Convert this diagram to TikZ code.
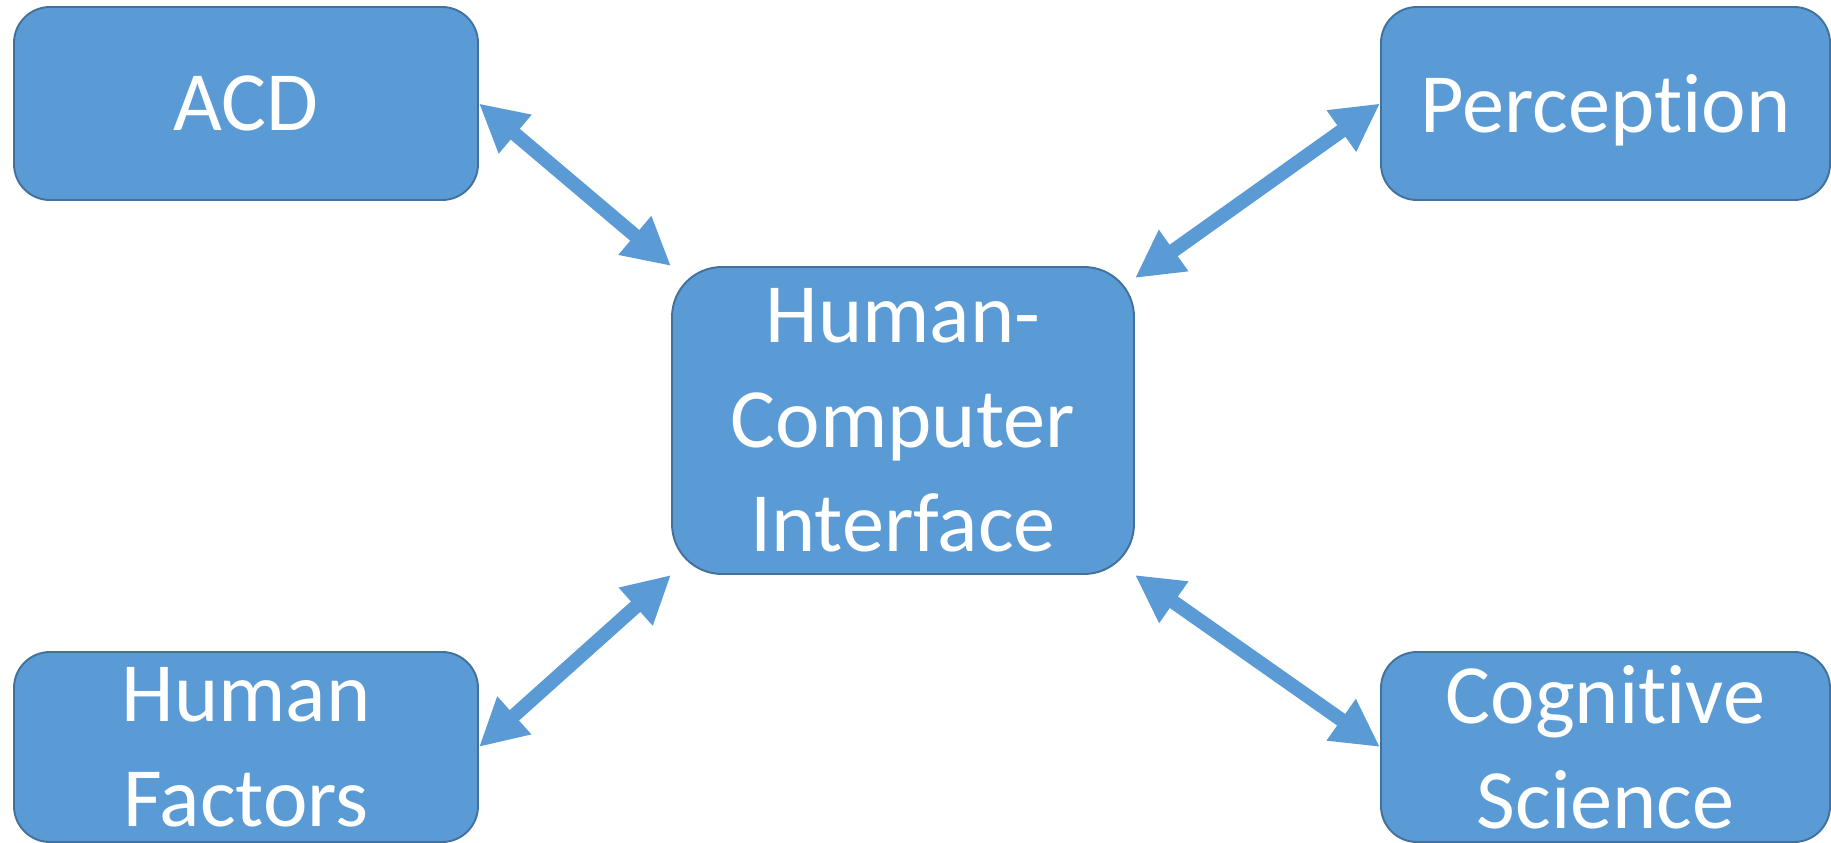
\documentclass[tikz,border=0pt]{standalone}
\usepackage{fontspec}
\setmainfont{Carlito}[Ligatures={NoCommon}]
\usetikzlibrary{arrows.meta}
\definecolor{boxfill}{HTML}{5B9BD5}
\definecolor{boxline}{HTML}{41719C}

\begin{document}
\begin{tikzpicture}[
    box/.style={draw=boxline, fill=boxfill, line width=1.1pt, rounded corners=0.72cm,
      text=white, align=center, inner sep=0pt, font=\fontsize{48}{59.5}\selectfont},
    link/.style={boxfill, line width=8pt,
      {Triangle[length=0.95cm,width=0.95cm]}-{Triangle[length=0.95cm,width=0.95cm]}}]
            \useasboundingbox (0,0) rectangle (36.62,-16.86);
            \node[box, minimum width=9.28cm, minimum height=3.86cm] (ACD) at (4.92, -2.07) {ACD};
            \node[box, minimum width=8.98cm, minimum height=3.86cm, text depth=0pt] (Perc) at (32.11, -2.07) {Perception};
            \node[box, minimum width=9.24cm, minimum height=6.14cm, rounded corners=1cm] (HCI) at (18.06, -8.41) {Human-\\Computer\\Interface};
            \node[box, minimum width=9.28cm, minimum height=3.80cm] (HF) at (4.92, -14.94) {Human\\Factors};
            \node[box, minimum width=8.98cm, minimum height=3.80cm] (Cog) at (32.11, -14.94) {Cognitive\\Science};

            \draw[link] (ACD.east) to (HCI.north west);
            \draw[link] (Perc.west) to ([yshift=-0.24cm]HCI.north east);
            \draw[link] (HF.east) to (HCI.south west);
            \draw[link] (Cog.west) to (HCI.south east);
          \end{tikzpicture}
\end{document}
